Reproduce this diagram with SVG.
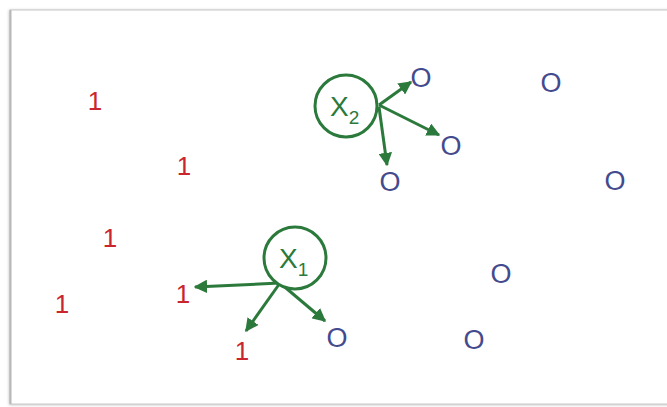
<svg xmlns="http://www.w3.org/2000/svg" width="667" height="407" viewBox="0 0 667 407">
  <defs>
    <marker id="arrow" viewBox="0 0 10 10" refX="9" refY="5" markerWidth="4.5" markerHeight="4.5" orient="auto" markerUnits="strokeWidth">
      <path d="M0,0 L10,5 L0,10 z" fill="#2b7a3c"/>
    </marker>
    <filter id="shadow" x="-5%" y="-5%" width="110%" height="110%">
      <feGaussianBlur stdDeviation="1.5"/>
    </filter>
    <style>
      .one { font-family: "Liberation Sans", Arial, sans-serif; font-size: 26px; fill: #c9252f; text-anchor: middle; }
      .zero { font-family: "Liberation Sans", Arial, sans-serif; font-size: 27px; fill: #444a8e; text-anchor: middle; }
      .var { font-family: "Liberation Sans", Arial, sans-serif; font-size: 28px; fill: #2b7a3c; }
      .sub { font-size: 19px; }
      .node { fill: #ffffff; stroke: #2b7a3c; stroke-width: 3; }
      .edge { stroke: #2b7a3c; stroke-width: 3; fill: none; marker-end: url(#arrow); }
    </style>
  </defs>

  <!-- page frame -->
  <rect x="0" y="0" width="667" height="407" fill="#ffffff"/>
  <rect x="9" y="10" width="700" height="395" fill="#c4c4c4" filter="url(#shadow)"/>
  <rect x="10" y="10" width="700" height="394" fill="#ffffff" stroke="#c8c8c8" stroke-width="1"/>
  <line x1="10.5" y1="10" x2="10.5" y2="404" stroke="#b8b8b8" stroke-width="2"/>

  <!-- class 1 samples -->
  <g id="ones">
    <text class="one" x="95" y="110">1</text>
    <text class="one" x="184" y="175">1</text>
    <text class="one" x="110" y="247">1</text>
    <text class="one" x="62" y="313">1</text>
    <text class="one" x="183" y="303">1</text>
    <text class="one" x="242" y="360">1</text>
  </g>

  <!-- class O samples -->
  <g id="zeros">
    <text class="zero" x="421" y="87">O</text>
    <text class="zero" x="551" y="92">O</text>
    <text class="zero" x="451" y="155">O</text>
    <text class="zero" x="390" y="191">O</text>
    <text class="zero" x="615" y="190">O</text>
    <text class="zero" x="501" y="283">O</text>
    <text class="zero" x="337" y="347">O</text>
    <text class="zero" x="474" y="349">O</text>
  </g>

  <!-- neighbour connectors -->
  <g id="connectors">
    <line class="edge" x1="379" y1="105" x2="411" y2="82"/>
    <line class="edge" x1="379" y1="105" x2="439" y2="135"/>
    <line class="edge" x1="379" y1="107" x2="387" y2="165"/>
    <line class="edge" x1="280" y1="283" x2="195" y2="287"/>
    <line class="edge" x1="280" y1="283" x2="246" y2="331"/>
    <line class="edge" x1="280" y1="283" x2="325" y2="321"/>
  </g>

  <!-- query points -->
  <g id="x2">
    <circle class="node" cx="346" cy="106" r="31"/>
    <text class="var" x="330" y="116">X<tspan class="sub" dy="8">2</tspan></text>
  </g>
  <g id="x1">
    <circle class="node" cx="295" cy="258" r="31"/>
    <text class="var" x="279" y="268">X<tspan class="sub" dy="8">1</tspan></text>
  </g>
</svg>
